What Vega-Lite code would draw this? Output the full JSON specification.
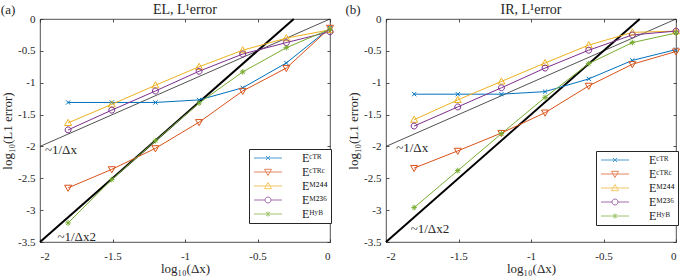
{
  "$schema": "https://vega.github.io/schema/vega-lite/v6.json",
  "padding": {"left": 0, "top": 2, "right": 0, "bottom": 0},
  "background": "white",
  "config": {
    "font": "Liberation Serif",
    "view": {"stroke": "#262626", "strokeWidth": 0.8},
    "axis": {"grid": false, "domain": false, "labelFont": "Liberation Serif", "titleFont": "Liberation Serif", "labelFontSize": 11, "titleFontSize": 13, "titleFontWeight": "normal", "labelColor": "#262626", "titleColor": "#262626", "tickColor": "#262626", "tickSize": -3, "tickWidth": 0.8},
    "title": {"font": "Liberation Serif", "fontSize": 14, "fontWeight": "normal", "color": "#262626", "offset": -13},
    "legend": {"labelFont": "Liberation Serif", "labelFontSize": 12, "labelColor": "#262626"}
  },
  "datasets": {
    "series": [
      {"panel": "EL", "s": "Eᶜᵀᴿ", "x": -1.806, "y": -1.31},
      {"panel": "EL", "s": "Eᶜᵀᴿ", "x": -1.505, "y": -1.31},
      {"panel": "EL", "s": "Eᶜᵀᴿ", "x": -1.204, "y": -1.31},
      {"panel": "EL", "s": "Eᶜᵀᴿ", "x": -0.903, "y": -1.27},
      {"panel": "EL", "s": "Eᶜᵀᴿ", "x": -0.602, "y": -1.08},
      {"panel": "EL", "s": "Eᶜᵀᴿ", "x": -0.301, "y": -0.69},
      {"panel": "EL", "s": "Eᶜᵀᴿ", "x": 0, "y": -0.14},
      {"panel": "EL", "s": "Eᶜᵀᴿᶜ", "x": -1.806, "y": -2.65},
      {"panel": "EL", "s": "Eᶜᵀᴿᶜ", "x": -1.505, "y": -2.36},
      {"panel": "EL", "s": "Eᶜᵀᴿᶜ", "x": -1.204, "y": -2.03},
      {"panel": "EL", "s": "Eᶜᵀᴿᶜ", "x": -0.903, "y": -1.62},
      {"panel": "EL", "s": "Eᶜᵀᴿᶜ", "x": -0.602, "y": -1.13},
      {"panel": "EL", "s": "Eᶜᵀᴿᶜ", "x": -0.301, "y": -0.77},
      {"panel": "EL", "s": "Eᶜᵀᴿᶜ", "x": 0, "y": -0.14},
      {"panel": "EL", "s": "Eᴹ²⁴⁴", "x": -1.806, "y": -1.63},
      {"panel": "EL", "s": "Eᴹ²⁴⁴", "x": -1.505, "y": -1.34},
      {"panel": "EL", "s": "Eᴹ²⁴⁴", "x": -1.204, "y": -1.04},
      {"panel": "EL", "s": "Eᴹ²⁴⁴", "x": -0.903, "y": -0.75},
      {"panel": "EL", "s": "Eᴹ²⁴⁴", "x": -0.602, "y": -0.49},
      {"panel": "EL", "s": "Eᴹ²⁴⁴", "x": -0.301, "y": -0.3},
      {"panel": "EL", "s": "Eᴹ²⁴⁴", "x": 0, "y": -0.17},
      {"panel": "EL", "s": "Eᴹ²³⁶", "x": -1.806, "y": -1.74},
      {"panel": "EL", "s": "Eᴹ²³⁶", "x": -1.505, "y": -1.43},
      {"panel": "EL", "s": "Eᴹ²³⁶", "x": -1.204, "y": -1.13},
      {"panel": "EL", "s": "Eᴹ²³⁶", "x": -0.903, "y": -0.82},
      {"panel": "EL", "s": "Eᴹ²³⁶", "x": -0.602, "y": -0.55},
      {"panel": "EL", "s": "Eᴹ²³⁶", "x": -0.301, "y": -0.37},
      {"panel": "EL", "s": "Eᴹ²³⁶", "x": 0, "y": -0.2},
      {"panel": "EL", "s": "Eᴴʸᴮ", "x": -1.806, "y": -3.2},
      {"panel": "EL", "s": "Eᴴʸᴮ", "x": -1.505, "y": -2.52},
      {"panel": "EL", "s": "Eᴴʸᴮ", "x": -1.204, "y": -1.91},
      {"panel": "EL", "s": "Eᴴʸᴮ", "x": -0.903, "y": -1.32},
      {"panel": "EL", "s": "Eᴴʸᴮ", "x": -0.602, "y": -0.83},
      {"panel": "EL", "s": "Eᴴʸᴮ", "x": -0.301, "y": -0.45},
      {"panel": "EL", "s": "Eᴴʸᴮ", "x": 0, "y": -0.16},
      {"panel": "IR", "s": "Eᶜᵀᴿ", "x": -1.806, "y": -1.18},
      {"panel": "IR", "s": "Eᶜᵀᴿ", "x": -1.505, "y": -1.18},
      {"panel": "IR", "s": "Eᶜᵀᴿ", "x": -1.204, "y": -1.18},
      {"panel": "IR", "s": "Eᶜᵀᴿ", "x": -0.903, "y": -1.14},
      {"panel": "IR", "s": "Eᶜᵀᴿ", "x": -0.602, "y": -0.94},
      {"panel": "IR", "s": "Eᶜᵀᴿ", "x": -0.301, "y": -0.65},
      {"panel": "IR", "s": "Eᶜᵀᴿ", "x": 0, "y": -0.48},
      {"panel": "IR", "s": "Eᶜᵀᴿᶜ", "x": -1.806, "y": -2.34},
      {"panel": "IR", "s": "Eᶜᵀᴿᶜ", "x": -1.505, "y": -2.07},
      {"panel": "IR", "s": "Eᶜᵀᴿᶜ", "x": -1.204, "y": -1.79},
      {"panel": "IR", "s": "Eᶜᵀᴿᶜ", "x": -0.903, "y": -1.47},
      {"panel": "IR", "s": "Eᶜᵀᴿᶜ", "x": -0.602, "y": -1.05},
      {"panel": "IR", "s": "Eᶜᵀᴿᶜ", "x": -0.301, "y": -0.71},
      {"panel": "IR", "s": "Eᶜᵀᴿᶜ", "x": 0, "y": -0.51},
      {"panel": "IR", "s": "Eᴹ²⁴⁴", "x": -1.806, "y": -1.58},
      {"panel": "IR", "s": "Eᴹ²⁴⁴", "x": -1.505, "y": -1.27},
      {"panel": "IR", "s": "Eᴹ²⁴⁴", "x": -1.204, "y": -0.98},
      {"panel": "IR", "s": "Eᴹ²⁴⁴", "x": -0.903, "y": -0.69},
      {"panel": "IR", "s": "Eᴹ²⁴⁴", "x": -0.602, "y": -0.41},
      {"panel": "IR", "s": "Eᴹ²⁴⁴", "x": -0.301, "y": -0.21},
      {"panel": "IR", "s": "Eᴹ²⁴⁴", "x": 0, "y": -0.19},
      {"panel": "IR", "s": "Eᴹ²³⁶", "x": -1.806, "y": -1.68},
      {"panel": "IR", "s": "Eᴹ²³⁶", "x": -1.505, "y": -1.38},
      {"panel": "IR", "s": "Eᴹ²³⁶", "x": -1.204, "y": -1.08},
      {"panel": "IR", "s": "Eᴹ²³⁶", "x": -0.903, "y": -0.77},
      {"panel": "IR", "s": "Eᴹ²³⁶", "x": -0.602, "y": -0.49},
      {"panel": "IR", "s": "Eᴹ²³⁶", "x": -0.301, "y": -0.25},
      {"panel": "IR", "s": "Eᴹ²³⁶", "x": 0, "y": -0.19},
      {"panel": "IR", "s": "Eᴴʸᴮ", "x": -1.806, "y": -2.96},
      {"panel": "IR", "s": "Eᴴʸᴮ", "x": -1.505, "y": -2.38},
      {"panel": "IR", "s": "Eᴴʸᴮ", "x": -1.204, "y": -1.8},
      {"panel": "IR", "s": "Eᴴʸᴮ", "x": -0.903, "y": -1.23},
      {"panel": "IR", "s": "Eᴴʸᴮ", "x": -0.602, "y": -0.7},
      {"panel": "IR", "s": "Eᴴʸᴮ", "x": -0.301, "y": -0.37},
      {"panel": "IR", "s": "Eᴴʸᴮ", "x": 0, "y": -0.22}
    ],
    "refs": [
      {"panel": "EL", "ref": "p1", "x": -2, "y": -2},
      {"panel": "EL", "ref": "p1", "x": 0, "y": 0},
      {"panel": "EL", "ref": "p2", "x": -2, "y": -3.5},
      {"panel": "EL", "ref": "p2", "x": -0.25, "y": 0},
      {"panel": "IR", "ref": "p1", "x": -2, "y": -2},
      {"panel": "IR", "ref": "p1", "x": 0, "y": 0},
      {"panel": "IR", "ref": "p2", "x": -2, "y": -3.5},
      {"panel": "IR", "ref": "p2", "x": -0.25, "y": 0}
    ],
    "labels": [
      {"panel": "EL", "t": "~1/Δx", "x": -1.966, "y": -2.05},
      {"panel": "EL", "t": "~1/Δx2", "x": -1.88, "y": -3.42},
      {"panel": "EL", "t": "(a)", "x": -2.27, "y": 0.14},
      {"panel": "IR", "t": "~1/Δx", "x": -1.93, "y": -2.02},
      {"panel": "IR", "t": "~1/Δx2", "x": -1.83, "y": -3.3},
      {"panel": "IR", "t": "(b)", "x": -2.28, "y": 0.14}
    ]
  },
  "hconcat": [
    {
      "width": 290, "height": 223,
      "title": "EL, L¹error",
      "layer": [
        {
          "data": {"name": "refs"},
          "transform": [{"filter": "datum.panel == 'EL' && datum.ref == 'p1'"}],
          "mark": {"type": "line", "color": "#262626", "strokeWidth": 0.8},
          "encoding": {
            "x": {"field": "x", "type": "quantitative", "scale": {"domain": [-2, 0], "nice": false, "zero": false}, "axis": {"values": [-2, -1.5, -1, -0.5, 0], "title": "log₁₀(Δx)", "labelExpr": "'' + datum.value", "labelPadding": 11, "titlePadding": 1}},
            "y": {"field": "y", "type": "quantitative", "scale": {"domain": [-3.5, 0], "nice": false, "zero": false}, "axis": {"values": [-3.5, -3, -2.5, -2, -1.5, -1, -0.5, 0], "title": "log₁₀(L1 error)", "labelExpr": "'' + datum.value", "labelPadding": 8, "titlePadding": 3}}
          }
        },
        {
          "data": {"name": "refs"},
          "transform": [{"filter": "datum.panel == 'EL' && datum.ref == 'p2'"}],
          "mark": {"type": "line", "color": "black", "strokeWidth": 2},
          "encoding": {
            "x": {"field": "x", "type": "quantitative", "axis": null},
            "y": {"field": "y", "type": "quantitative", "axis": null}
          }
        },
        {
          "data": {"name": "series"},
          "transform": [{"filter": "datum.panel == 'EL'"}],
          "mark": {"type": "line", "strokeWidth": 1},
          "encoding": {
            "x": {"field": "x", "type": "quantitative", "axis": null},
            "y": {"field": "y", "type": "quantitative", "axis": null},
            "stroke": {"field": "s", "type": "nominal", "scale": {"domain": ["Eᶜᵀᴿ", "Eᶜᵀᴿᶜ", "Eᴹ²⁴⁴", "Eᴹ²³⁶", "Eᴴʸᴮ"], "range": ["#0072BD", "#D95319", "#EDB120", "#7E2F8E", "#77AC30"]}, "legend": null}
          }
        },
        {
          "data": {"name": "series"},
          "transform": [{"filter": "datum.panel == 'EL'"}],
          "mark": {"type": "point", "filled": false, "strokeWidth": 1, "size": 49, "opacity": 1},
          "encoding": {
            "x": {"field": "x", "type": "quantitative", "axis": null},
            "y": {"field": "y", "type": "quantitative", "axis": null},
            "color": {"field": "s", "type": "nominal", "scale": {"domain": ["Eᶜᵀᴿ", "Eᶜᵀᴿᶜ", "Eᴹ²⁴⁴", "Eᴹ²³⁶", "Eᴴʸᴮ"], "range": ["#0072BD", "#D95319", "#EDB120", "#7E2F8E", "#77AC30"]}, "legend": null},
            "shape": {"field": "s", "type": "nominal", "scale": {"domain": ["Eᶜᵀᴿ", "Eᶜᵀᴿᶜ", "Eᴹ²⁴⁴", "Eᴹ²³⁶", "Eᴴʸᴮ"], "range": ["M-0.6,-0.6L0.6,0.6M-0.6,0.6L0.6,-0.6", "M-1,-0.75L1,-0.75L0,1Z", "M-1,0.75L1,0.75L0,-1Z", "M-0.85,0A0.85,0.85,0,1,0,0.85,0A0.85,0.85,0,1,0,-0.85,0Z", "M-0.8,0L0.8,0M0,-0.8L0,0.8M-0.57,-0.57L0.57,0.57M-0.57,0.57L0.57,-0.57"]}, "legend": null}
          }
        },
        {
          "data": {"name": "series"},
          "transform": [{"filter": "datum.panel == 'EL'"}],
          "mark": {"type": "point", "filled": false, "strokeWidth": 1, "size": 36, "xOffset": 1000, "clip": true},
          "encoding": {
            "x": {"field": "x", "type": "quantitative", "axis": null},
            "y": {"field": "y", "type": "quantitative", "axis": null},
            "color": {"field": "s", "type": "nominal", "scale": {"domain": ["Eᶜᵀᴿ", "Eᶜᵀᴿᶜ", "Eᴹ²⁴⁴", "Eᴹ²³⁶", "Eᴴʸᴮ"], "range": ["#0072BD", "#D95319", "#EDB120", "#7E2F8E", "#77AC30"]},
              "legend": {"orient": "none", "legendX": 209, "legendY": 130, "title": null, "strokeColor": "#262626", "fillColor": "white", "padding": 3, "symbolSize": 36, "symbolOffset": 10, "labelOffset": 28, "rowPadding": 2, "symbolStrokeWidth": 1}},
            "shape": {"field": "s", "type": "nominal", "scale": {"domain": ["Eᶜᵀᴿ", "Eᶜᵀᴿᶜ", "Eᴹ²⁴⁴", "Eᴹ²³⁶", "Eᴴʸᴮ"], "range": ["M-4.67,0L4.67,0M-0.67,-0.67L0.67,0.67M-0.67,0.67L0.67,-0.67", "M-4.67,0L4.67,0M-1.17,-0.9L1.17,-0.9L0,1.17Z", "M-4.67,0L4.67,0M-1.17,0.9L1.17,0.9L0,-1.17Z", "M-4.67,0L-1,0M1,0L4.67,0M-1,0A1,1,0,1,0,1,0A1,1,0,1,0,-1,0Z", "M-4.67,0L4.67,0M0,-0.85L0,0.85M-0.6,-0.6L0.6,0.6M-0.6,0.6L0.6,-0.6"]}}
          }
        },
        {
          "data": {"name": "labels"},
          "transform": [{"filter": "datum.panel == 'EL'"}],
          "mark": {"type": "text", "align": "left", "baseline": "middle", "fontSize": 13, "color": "#262626", "font": "Liberation Serif"},
          "encoding": {
            "x": {"field": "x", "type": "quantitative", "axis": null},
            "y": {"field": "y", "type": "quantitative", "axis": null},
            "text": {"field": "t"}
          }
        },
        {
          "data": {"name": "refs"},
          "transform": [{"filter": "datum.panel == 'EL'"}],
          "mark": {"type": "point", "opacity": 0},
          "encoding": {
            "x": {"field": "x", "type": "quantitative", "axis": {"orient": "top", "labels": false, "title": null, "values": [-2, -1.5, -1, -0.5, 0]}},
            "y": {"field": "y", "type": "quantitative", "axis": {"orient": "right", "labels": false, "title": null, "values": [-3.5, -3, -2.5, -2, -1.5, -1, -0.5, 0]}}
          }
        }
      ],
      "resolve": {"axis": {"x": "independent", "y": "independent"}, "scale": {"color": "independent", "shape": "independent", "stroke": "independent"}, "legend": {"color": "independent", "shape": "independent", "stroke": "independent"}}
    },
    {
      "width": 290, "height": 223,
      "title": "IR, L¹error",
      "layer": [
        {
          "data": {"name": "refs"},
          "transform": [{"filter": "datum.panel == 'IR' && datum.ref == 'p1'"}],
          "mark": {"type": "line", "color": "#262626", "strokeWidth": 0.8},
          "encoding": {
            "x": {"field": "x", "type": "quantitative", "scale": {"domain": [-2, 0], "nice": false, "zero": false}, "axis": {"values": [-2, -1.5, -1, -0.5, 0], "title": "log₁₀(Δx)", "labelExpr": "'' + datum.value", "labelPadding": 11, "titlePadding": 1}},
            "y": {"field": "y", "type": "quantitative", "scale": {"domain": [-3.5, 0], "nice": false, "zero": false}, "axis": {"values": [-3.5, -3, -2.5, -2, -1.5, -1, -0.5, 0], "title": "log₁₀(L1 error)", "labelExpr": "'' + datum.value", "labelPadding": 8, "titlePadding": 3}}
          }
        },
        {
          "data": {"name": "refs"},
          "transform": [{"filter": "datum.panel == 'IR' && datum.ref == 'p2'"}],
          "mark": {"type": "line", "color": "black", "strokeWidth": 2},
          "encoding": {
            "x": {"field": "x", "type": "quantitative", "axis": null},
            "y": {"field": "y", "type": "quantitative", "axis": null}
          }
        },
        {
          "data": {"name": "series"},
          "transform": [{"filter": "datum.panel == 'IR'"}],
          "mark": {"type": "line", "strokeWidth": 1},
          "encoding": {
            "x": {"field": "x", "type": "quantitative", "axis": null},
            "y": {"field": "y", "type": "quantitative", "axis": null},
            "stroke": {"field": "s", "type": "nominal", "scale": {"domain": ["Eᶜᵀᴿ", "Eᶜᵀᴿᶜ", "Eᴹ²⁴⁴", "Eᴹ²³⁶", "Eᴴʸᴮ"], "range": ["#0072BD", "#D95319", "#EDB120", "#7E2F8E", "#77AC30"]}, "legend": null}
          }
        },
        {
          "data": {"name": "series"},
          "transform": [{"filter": "datum.panel == 'IR'"}],
          "mark": {"type": "point", "filled": false, "strokeWidth": 1, "size": 49, "opacity": 1},
          "encoding": {
            "x": {"field": "x", "type": "quantitative", "axis": null},
            "y": {"field": "y", "type": "quantitative", "axis": null},
            "color": {"field": "s", "type": "nominal", "scale": {"domain": ["Eᶜᵀᴿ", "Eᶜᵀᴿᶜ", "Eᴹ²⁴⁴", "Eᴹ²³⁶", "Eᴴʸᴮ"], "range": ["#0072BD", "#D95319", "#EDB120", "#7E2F8E", "#77AC30"]}, "legend": null},
            "shape": {"field": "s", "type": "nominal", "scale": {"domain": ["Eᶜᵀᴿ", "Eᶜᵀᴿᶜ", "Eᴹ²⁴⁴", "Eᴹ²³⁶", "Eᴴʸᴮ"], "range": ["M-0.6,-0.6L0.6,0.6M-0.6,0.6L0.6,-0.6", "M-1,-0.75L1,-0.75L0,1Z", "M-1,0.75L1,0.75L0,-1Z", "M-0.85,0A0.85,0.85,0,1,0,0.85,0A0.85,0.85,0,1,0,-0.85,0Z", "M-0.8,0L0.8,0M0,-0.8L0,0.8M-0.57,-0.57L0.57,0.57M-0.57,0.57L0.57,-0.57"]}, "legend": null}
          }
        },
        {
          "data": {"name": "series"},
          "transform": [{"filter": "datum.panel == 'IR'"}],
          "mark": {"type": "point", "filled": false, "strokeWidth": 1, "size": 36, "xOffset": 1000, "clip": true},
          "encoding": {
            "x": {"field": "x", "type": "quantitative", "axis": null},
            "y": {"field": "y", "type": "quantitative", "axis": null},
            "color": {"field": "s", "type": "nominal", "scale": {"domain": ["Eᶜᵀᴿ", "Eᶜᵀᴿᶜ", "Eᴹ²⁴⁴", "Eᴹ²³⁶", "Eᴴʸᴮ"], "range": ["#0072BD", "#D95319", "#EDB120", "#7E2F8E", "#77AC30"]},
              "legend": {"orient": "none", "legendX": 210, "legendY": 132, "title": null, "strokeColor": "#262626", "fillColor": "white", "padding": 3, "symbolSize": 36, "symbolOffset": 10, "labelOffset": 28, "rowPadding": 2, "symbolStrokeWidth": 1}},
            "shape": {"field": "s", "type": "nominal", "scale": {"domain": ["Eᶜᵀᴿ", "Eᶜᵀᴿᶜ", "Eᴹ²⁴⁴", "Eᴹ²³⁶", "Eᴴʸᴮ"], "range": ["M-4.67,0L4.67,0M-0.67,-0.67L0.67,0.67M-0.67,0.67L0.67,-0.67", "M-4.67,0L4.67,0M-1.17,-0.9L1.17,-0.9L0,1.17Z", "M-4.67,0L4.67,0M-1.17,0.9L1.17,0.9L0,-1.17Z", "M-4.67,0L-1,0M1,0L4.67,0M-1,0A1,1,0,1,0,1,0A1,1,0,1,0,-1,0Z", "M-4.67,0L4.67,0M0,-0.85L0,0.85M-0.6,-0.6L0.6,0.6M-0.6,0.6L0.6,-0.6"]}}
          }
        },
        {
          "data": {"name": "labels"},
          "transform": [{"filter": "datum.panel == 'IR'"}],
          "mark": {"type": "text", "align": "left", "baseline": "middle", "fontSize": 13, "color": "#262626", "font": "Liberation Serif"},
          "encoding": {
            "x": {"field": "x", "type": "quantitative", "axis": null},
            "y": {"field": "y", "type": "quantitative", "axis": null},
            "text": {"field": "t"}
          }
        },
        {
          "data": {"name": "refs"},
          "transform": [{"filter": "datum.panel == 'IR'"}],
          "mark": {"type": "point", "opacity": 0},
          "encoding": {
            "x": {"field": "x", "type": "quantitative", "axis": {"orient": "top", "labels": false, "title": null, "values": [-2, -1.5, -1, -0.5, 0]}},
            "y": {"field": "y", "type": "quantitative", "axis": {"orient": "right", "labels": false, "title": null, "values": [-3.5, -3, -2.5, -2, -1.5, -1, -0.5, 0]}}
          }
        }
      ],
      "resolve": {"axis": {"x": "independent", "y": "independent"}, "scale": {"color": "independent", "shape": "independent", "stroke": "independent"}, "legend": {"color": "independent", "shape": "independent", "stroke": "independent"}}
    }
  ],
  "spacing": 56,
  "bounds": "flush",
  "resolve": {"scale": {"x": "independent", "y": "independent", "color": "independent", "stroke": "independent", "shape": "independent"}, "legend": {"color": "independent", "stroke": "independent", "shape": "independent"}}
}
